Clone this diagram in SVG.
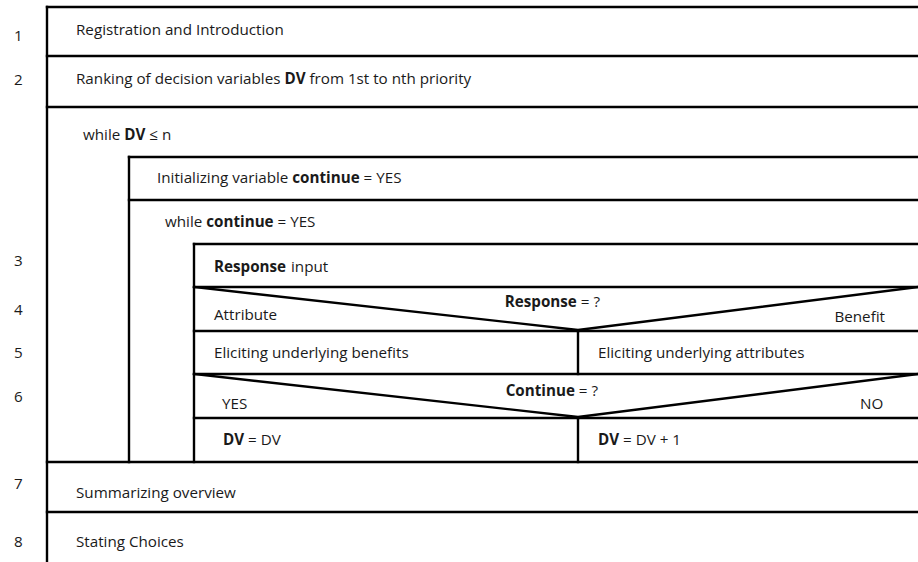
<svg xmlns="http://www.w3.org/2000/svg" width="918" height="562" viewBox="0 0 918 562">
  <style>
    .ln { stroke: #000; stroke-width: 2.4; fill: none; stroke-linecap: square; }
    .tx { font-family: "Open Sans", "Noto Sans", "Liberation Sans", sans-serif; font-size: 15.2px; fill: #1a1a1a; }
    .num { font-family: "Open Sans", "Noto Sans", "Liberation Sans", sans-serif; font-size: 15.2px; fill: #1a1a1a; }
    .b { font-weight: bold; }
  </style>
  <rect width="918" height="562" fill="#fff"/>

  <!-- step numbers -->
  <g id="step-numbers" class="num">
    <text x="14" y="41">1</text>
    <text x="14" y="85">2</text>
    <text x="14" y="266">3</text>
    <text x="14" y="315">4</text>
    <text x="14" y="358">5</text>
    <text x="14" y="402">6</text>
    <text x="14" y="489">7</text>
    <text x="14" y="547">8</text>
  </g>

  <!-- structure lines: outer sequence and nested loop bars -->
  <g id="connectors" class="ln">
    <line x1="47" y1="7" x2="47" y2="562"/>
    <line x1="129" y1="157" x2="129" y2="462"/>
    <line x1="194" y1="244" x2="194" y2="462"/>
  </g>

  <g id="registration">
    <line class="ln" x1="47" y1="7" x2="918" y2="7"/>
    <text class="tx" x="76" y="35">Registration and Introduction</text>
  </g>

  <g id="ranking">
    <line class="ln" x1="47" y1="56" x2="918" y2="56"/>
    <text class="tx" x="76" y="84">Ranking of decision variables <tspan class="b">DV</tspan> from 1st to nth priority</text>
  </g>

  <g id="loop-dv">
    <line class="ln" x1="47" y1="107" x2="918" y2="107"/>
    <text class="tx" x="83" y="140">while <tspan class="b">DV</tspan> ≤ n</text>
  </g>

  <g id="init-continue">
    <line class="ln" x1="129" y1="157" x2="918" y2="157"/>
    <text class="tx" x="157" y="183">Initializing variable <tspan class="b">continue</tspan> = YES</text>
  </g>

  <g id="loop-continue">
    <line class="ln" x1="129" y1="200" x2="918" y2="200"/>
    <text class="tx" x="165" y="227">while <tspan class="b">continue</tspan> = YES</text>
  </g>

  <g id="response-input">
    <line class="ln" x1="194" y1="244" x2="918" y2="244"/>
    <text class="tx" x="214" y="272"><tspan class="b">Response</tspan><tspan x="291">input</tspan></text>
  </g>

  <g id="decision-response">
    <line class="ln" x1="194" y1="287" x2="918" y2="287"/>
    <polyline class="ln" points="194,287 578,330 918,287"/>
    <text class="tx" x="600" y="307" text-anchor="end"><tspan class="b">Response</tspan> = ?</text>
    <text class="tx" x="214" y="320">Attribute</text>
    <text class="tx" x="885" y="322" text-anchor="end">Benefit</text>
  </g>

  <g id="elicit-benefits">
    <line class="ln" x1="194" y1="331" x2="578" y2="331"/>
    <text class="tx" x="214" y="358">Eliciting underlying benefits</text>
  </g>

  <g id="elicit-attributes">
    <line class="ln" x1="578" y1="331" x2="918" y2="331"/>
    <line class="ln" x1="578" y1="331" x2="578" y2="374"/>
    <text class="tx" x="598" y="358">Eliciting underlying attributes</text>
  </g>

  <g id="decision-continue">
    <line class="ln" x1="194" y1="374" x2="918" y2="374"/>
    <polyline class="ln" points="194,374 578,417 918,374"/>
    <text class="tx" x="598" y="396" text-anchor="end"><tspan class="b">Continue</tspan> = ?</text>
    <text class="tx" x="222" y="409">YES</text>
    <text class="tx" x="860" y="409">NO</text>
  </g>

  <g id="dv-same">
    <line class="ln" x1="194" y1="418" x2="578" y2="418"/>
    <text class="tx" x="223" y="445"><tspan class="b">DV</tspan> = DV</text>
  </g>

  <g id="dv-next">
    <line class="ln" x1="578" y1="418" x2="918" y2="418"/>
    <line class="ln" x1="578" y1="418" x2="578" y2="462"/>
    <text class="tx" x="598" y="445"><tspan class="b">DV</tspan> = DV + 1</text>
  </g>

  <g id="summary">
    <line class="ln" x1="47" y1="462" x2="918" y2="462"/>
    <text class="tx" x="76" y="498">Summarizing overview</text>
  </g>

  <g id="choices">
    <line class="ln" x1="47" y1="512" x2="918" y2="512"/>
    <text class="tx" x="76" y="547">Stating Choices</text>
  </g>
</svg>
